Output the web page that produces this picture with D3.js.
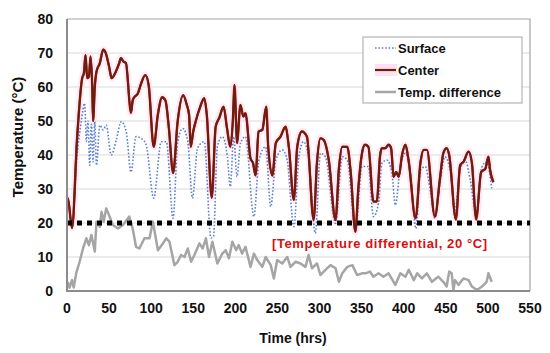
<!DOCTYPE html>
<html>
<head>
<meta charset="utf-8">
<script src="https://cdn.jsdelivr.net/npm/d3@7"></script>
<style>
  body { margin: 0; background: #fff; }
  svg text { font-family: "Liberation Sans", Arial, sans-serif; font-weight: bold; }
</style>
</head>
<body>
<div id="chartDiv"></div>
<script>
const chartWidth = 550;
const chartHeight = 353;
const plot = { left: 67, right: 530, top: 19, bottom: 291 };

const xTicks = [0, 50, 100, 150, 200, 250, 300, 350, 400, 450, 500, 550];
const yTicks = [0, 10, 20, 30, 40, 50, 60, 70, 80];
const limitValue = 20;
const legendLabels = ["Surface", "Center", "Temp. difference"];

// [time (hrs), temperature (°C)]
const centerData = [
  [0,27],[1,27.3],[6,18.5],[12,45],[18,62.6],[20,64],[22,69.4],[24,62.6],[26,63],[28,69],[30,60],[31,50],
  [33,60],[35,64.5],[39,67],[43,71],[46,70],[50,66],[53,62.6],[58,64.5],[62,67],[64,68.5],[67,67.5],[70,67],
  [76,52.4],[78,56],[80,57],[84,58],[88,61],[93,63.5],[97,60.6],[103,42.4],[108,52],[113,57],[117,56],[121,48],
  [126,34.7],[131.5,50],[138,57.6],[142,55],[145,51.8],[147,42.4],[150,47],[153,50],[158,54],[163,56.7],[166,52],
  [172,27.4],[176.6,48.3],[181,51],[186,54.2],[190,48],[194,42.4],[197,50],[199,60.6],[202,43.5],[206,54.7],
  [209.5,51.3],[212,52.3],[218,39],[221,37.6],[224,34],[227.6,46.9],[232,47.4],[236.7,54.2],[239,42.4],[244,34],
  [248,43.5],[253.6,45.4],[259.6,48.3],[263.5,42.4],[269.5,26.8],[273.5,42.4],[279,46.9],[285,45.4],[293,20.9],
  [297,38],[301,44.9],[305,44.4],[311,38.5],[319,20.9],[323,36],[327,42.4],[333,42.4],[337,35],[342.6,17.4],
  [346,30],[350.5,40.6],[354,43],[358,42.4],[364,26.3],[368,26.3],[372,40],[374,42],[378,42],[382,43],[385,42],
  [388,33.6],[391,35],[394,33.6],[398,40],[402,43],[406,38],[414,21.4],[420,38],[423.6,41.5],[427.5,41.5],
  [437,21.9],[443,33],[447,40.5],[451,42],[454,40],[462,21],[467,37],[471,38],[477,41],[481,37.6],[486,21],
  [492,35],[497,36],[500.6,39.5],[502.6,35.6],[506.5,32]
];

const surfaceData = [
  [0,27],[1,27],[6,19],[12,40],[17,50],[21,55.2],[23,44],[25,50],[27,37],[29,49],[31,38],[33,49.8],[35,37],
  [39,48.8],[43,47.4],[46.6,48.8],[52.5,40],[58.5,44.4],[64.4,49.8],[70.3,46.9],[76,35],[82,45.4],[88,44.9],
  [94,43],[103,27.3],[112,43.9],[118,43.9],[126,21.4],[131.5,43.9],[137.5,47.8],[143.5,43.9],[149,27.3],[155,42],
  [163,43.9],[171,15.6],[174,16],[178.6,42.4],[184.5,45.4],[190.5,39.5],[194,30.7],[198,45.4],[202,33.6],
  [206,43.4],[212,45.4],[222,21.9],[228,38.5],[236,42.4],[242,24.8],[248,38.5],[255.7,41.5],[261.6,38.5],
  [269.5,18.9],[275.4,39.5],[281,43.9],[287,39.5],[295,17],[301,40.5],[307,39.5],[319,19.9],[327,39.5],
  [333,38.5],[342.6,17.9],[350.5,36.6],[358,36.6],[364,21.9],[370,25.8],[374,37.5],[380,38.5],[386,34.6],
  [390,25.3],[396,36.6],[402,40.5],[408,34.6],[414.5,18.4],[420,35.6],[425.6,36.6],[431.5,29.7],[437,21.4],
  [443,31.7],[449,39.5],[455,35.6],[461,23.8],[467,35.6],[473,38.5],[479,32.6],[486,22.9],[493,36.6],
  [498.5,38],[504.5,30.2]
];

const diffData = [
  [1,2.7],[3,1],[6,3.2],[8,1],[11,5.3],[15,8.6],[19,12.5],[23,15.5],[26,13.5],[29,16.5],[33,11.6],[35,20.4],
  [39,18.9],[41,23.3],[43.5,20.4],[46.6,24.3],[50.6,21.9],[54.5,19.4],[60.5,18.4],[66.4,19.4],[74,21.9],
  [78,18.4],[82,13],[86,12.5],[92,15.5],[98,15.5],[102,20.4],[108,12],[114,14],[118,15.5],[121.7,14.5],
  [127.6,7.6],[131.5,8.6],[135.5,10.6],[139.5,10],[143.5,12.5],[147.4,8.6],[151.3,10.6],[157.3,14],[161.2,12.5],
  [165,15.5],[168.7,10],[172.7,14.5],[178.6,8.1],[184.5,11],[188.5,12],[192.4,9.6],[196.4,14.5],[201,12],
  [204,13.5],[208,11],[212,13],[218,7.1],[222,11],[226,9.1],[232,7.1],[236,10],[242,7.6],[245.7,3.7],
  [249.7,9.1],[255.7,8.1],[261.6,10],[265.5,7.1],[271.5,8.6],[277.4,8.1],[283.3,7.1],[287,10.6],[291,6.7],
  [297,8.1],[301,4.7],[307,6.2],[313,7.6],[319,6.7],[323,2.7],[327,5.2],[333,7.1],[339,7.6],[344.6,4.7],
  [350.5,5.2],[354.5,5.2],[360,5.7],[364,4.2],[370,5.2],[376,4.2],[382,5.2],[390,1.8],[396,5.2],[402,4.2],
  [406,6.2],[412,3.2],[416,5.2],[421.6,3.7],[427.5,5.2],[433.5,2.7],[441,4.2],[447,2.7],[451,1.3],[454,5.7],
  [457,5.2],[459,0.3],[461,3.2],[465,1.8],[471,3.7],[477,3.2],[481,1.3],[487,0.3],[493,1.3],[498.5,2.7],
  [500.6,5.2],[504.5,2.7]
];

var svg = d3.select("#chartDiv").append("svg")
    .attr("width", chartWidth)
    .attr("height", chartHeight);

var x = d3.scaleLinear().domain([0, 550]).range([plot.left, plot.right]);
var y = d3.scaleLinear().domain([0, 80]).range([plot.bottom, plot.top]);

// gridlines
svg.append("g")
    .selectAll("line")
    .data(yTicks.filter(d => d > 0 && d < 80))
    .enter()
    .append("line")
    .attr("x1", plot.left)
    .attr("x2", plot.right)
    .attr("y1", d => y(d))
    .attr("y2", d => y(d))
    .style("stroke", "#d9d9d9")
    .style("stroke-width", 1);

// frame (top + right)
svg.append("path")
    .attr("d", `M${plot.left},${plot.top}H${plot.right}V${plot.bottom}`)
    .style("fill", "none")
    .style("stroke", "#a6a6a6")
    .style("stroke-width", 1.2);

var lineGen = d3.line().x(d => x(d[0])).y(d => y(d[1]));
var smoothGen = d3.line().x(d => x(d[0])).y(d => y(d[1])).curve(d3.curveMonotoneX);

// temp. difference
svg.append("path")
    .datum(diffData)
    .attr("d", lineGen)
    .style("fill", "none")
    .style("stroke", "#a5a5a5")
    .style("stroke-width", 2.5)
    .style("stroke-linejoin", "round");

// center halo
svg.append("path")
    .datum(centerData)
    .attr("d", smoothGen)
    .style("fill", "none")
    .style("stroke", "#ffdcef")
    .style("stroke-width", 7)
    .style("opacity", 0.6);

// surface
svg.append("path")
    .datum(surfaceData)
    .attr("d", smoothGen)
    .style("fill", "none")
    .style("stroke", "#5b7fd1")
    .style("stroke-width", 1.6)
    .style("stroke-dasharray", "1.6,1.8");

// center
svg.append("path")
    .datum(centerData)
    .attr("d", smoothGen)
    .style("fill", "none")
    .style("stroke", "#c81414")
    .style("stroke-width", 2.4);

svg.append("path")
    .datum(centerData)
    .attr("d", smoothGen)
    .style("fill", "none")
    .style("stroke", "#652010")
    .style("stroke-width", 2);

// 20 degree limit line
svg.append("line")
    .attr("x1", plot.left)
    .attr("x2", plot.right)
    .attr("y1", y(limitValue))
    .attr("y2", y(limitValue))
    .style("stroke", "black")
    .style("stroke-width", 5)
    .style("stroke-dasharray", "5,5");

svg.append("text")
    .attr("x", 272)
    .attr("y", y(limitValue) + 25)
    .attr("textLength", 215)
    .style("font-size", "13px")
    .style("fill", "#d81010")
    .text("[Temperature differential, 20 °C]");

// axes lines (left + bottom)
svg.append("path")
    .attr("d", `M${plot.left},${plot.top}V${plot.bottom}H${plot.right}`)
    .style("fill", "none")
    .style("stroke", "#8c8c8c")
    .style("stroke-width", 2);

// tick labels
svg.append("g")
    .selectAll("text")
    .data(yTicks)
    .enter()
    .append("text")
    .attr("x", 53)
    .attr("y", d => y(d) + 5)
    .attr("text-anchor", "end")
    .style("font-size", "14px")
    .style("fill", "#111")
    .text(d => d);

svg.append("g")
    .selectAll("text")
    .data(xTicks)
    .enter()
    .append("text")
    .attr("x", d => x(d))
    .attr("y", 313)
    .attr("text-anchor", "middle")
    .style("font-size", "14px")
    .style("fill", "#111")
    .text(d => d);

// axis titles
svg.append("text")
    .attr("transform", "translate(23,137) rotate(-90)")
    .attr("text-anchor", "middle")
    .style("font-size", "15px")
    .style("fill", "#111")
    .text("Temperature (°C)");

svg.append("text")
    .attr("x", 293)
    .attr("y", 343)
    .attr("text-anchor", "middle")
    .style("font-size", "14px")
    .style("fill", "#111")
    .text("Time (hrs)");

// legend
var legX = 363, legY = 37;
svg.append("rect")
    .attr("x", legX)
    .attr("y", legY)
    .attr("width", 159)
    .attr("height", 66)
    .style("fill", "white")
    .style("stroke", "#a6a6a6")
    .style("stroke-width", 1);

var legStyles = [
    { stroke: "#5b7fd1", width: 1.6, dash: "1.6,1.8" },
    { stroke: "#652010", width: 2.2, dash: null },
    { stroke: "#a5a5a5", width: 2.5, dash: null }
];

legendLabels.forEach((label, i) => {
    var ly = legY + 11 + i * 22;
    if (i === 1) {
        svg.append("rect")
            .attr("x", 375).attr("y", ly - 6)
            .attr("width", 22).attr("height", 12)
            .style("fill", "#ffe0f0");
    }
    svg.append("line")
        .attr("x1", 375).attr("x2", 396)
        .attr("y1", ly).attr("y2", ly)
        .style("stroke", legStyles[i].stroke)
        .style("stroke-width", legStyles[i].width)
        .style("stroke-dasharray", legStyles[i].dash);
    svg.append("text")
        .attr("x", 398)
        .attr("y", ly + 5)
        .style("font-size", "13px")
        .style("fill", "#111")
        .text(label);
});
</script>
</body>
</html>
